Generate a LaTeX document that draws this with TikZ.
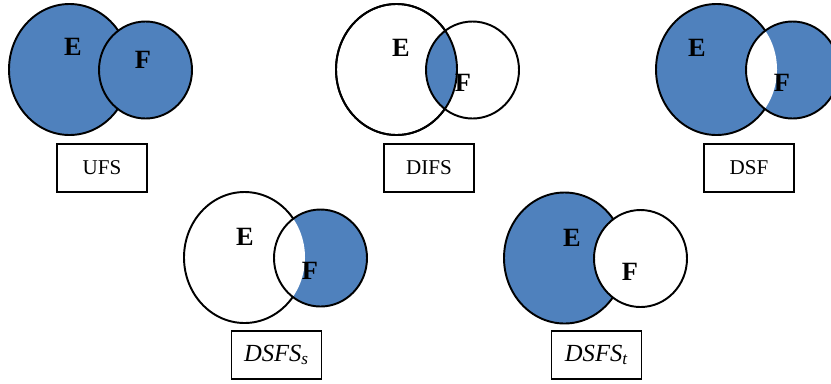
\documentclass[tikz,border=0pt]{standalone}
\usepackage{fontspec}
\setmainfont{Liberation Serif}
\usepackage{xcolor}
\definecolor{C0}{RGB}{79,129,189}

\tikzset{
  set/.style={line width=1.1pt},
  setname/.style={inner sep=0pt, font=\bfseries\fontsize{15}{15}\selectfont},
  namebox/.style={draw, line width=1pt, minimum width=1.8cm, minimum height=0.96cm,
    font=\fontsize{12}{12}\selectfont},
  subname/.style={namebox, font=\itshape\fontsize{14}{14}\selectfont},
}

% E and F with their own fills, the lens E\cap F on top of them
\newcommand{\vennpair}[4]{%
  \begin{scope}[shift={#1}]
    \draw[set, fill=#2] (0,0) ellipse [x radius=60.5, y radius=65.5];
    \fill[#3] (76,0.5) ellipse [x radius=46.5, y radius=48.5];
    \begin{scope}
      \clip (0,0) ellipse [x radius=60.5, y radius=65.5];
      \fill[#4] (76,0.5) ellipse [x radius=46.5, y radius=48.5];
    \end{scope}
    \draw[set] (76,0.5) ellipse [x radius=46.5, y radius=48.5];
  \end{scope}}

\begin{document}
\begin{tikzpicture}[x=0.02cm, y=-0.02cm]

  \useasboundingbox (0,0) rectangle (831,383);
  \clip (0,0) rectangle (831,383);

  % Union.
  \vennpair{(69.5,69.5)}{C0}{C0}{C0}
  \node[setname] (ufsE) at (73,47) {E};
  \node[setname] (ufsF) at (143,60) {F};
  \node[namebox] (ufs) at (102,168) {UFS};

  % Intersection.
  \vennpair{(396.5,69.5)}{white}{white}{C0}
  \draw[set] (396.5,69.5) ellipse [x radius=60.5, y radius=65.5];
  \node[setname] (difsE) at (401,48) {E};
  \node[setname] (difsF) at (463,83) {F};
  \node[namebox] (difs) at (429,168) {DIFS};

  % Symmetric difference.
  \vennpair{(716.5,69.5)}{C0}{C0}{white}
  \node[setname] (dsfE) at (697,48) {E};
  \node[setname] (dsfF) at (782,83) {F};
  \node[namebox] (dsf) at (749,168) {DSF};

  % F without E.
  \vennpair{(244.5,257.5)}{white}{C0}{white}
  \node[setname] (dsfssE) at (245,237) {E};
  \node[setname] (dsfssF) at (310,271) {F};
  \node[subname] (dsfss) at (276.5,355) {DSFS\textsubscript{s}};

  % E without F.
  \vennpair{(564.5,258)}{C0}{white}{white}
  \node[setname] (dsftE) at (572,238) {E};
  \node[setname] (dsftF) at (630,272) {F};
  \node[subname] (dsft) at (596.5,355) {DSFS\textsubscript{t}};

\end{tikzpicture}
\end{document}
